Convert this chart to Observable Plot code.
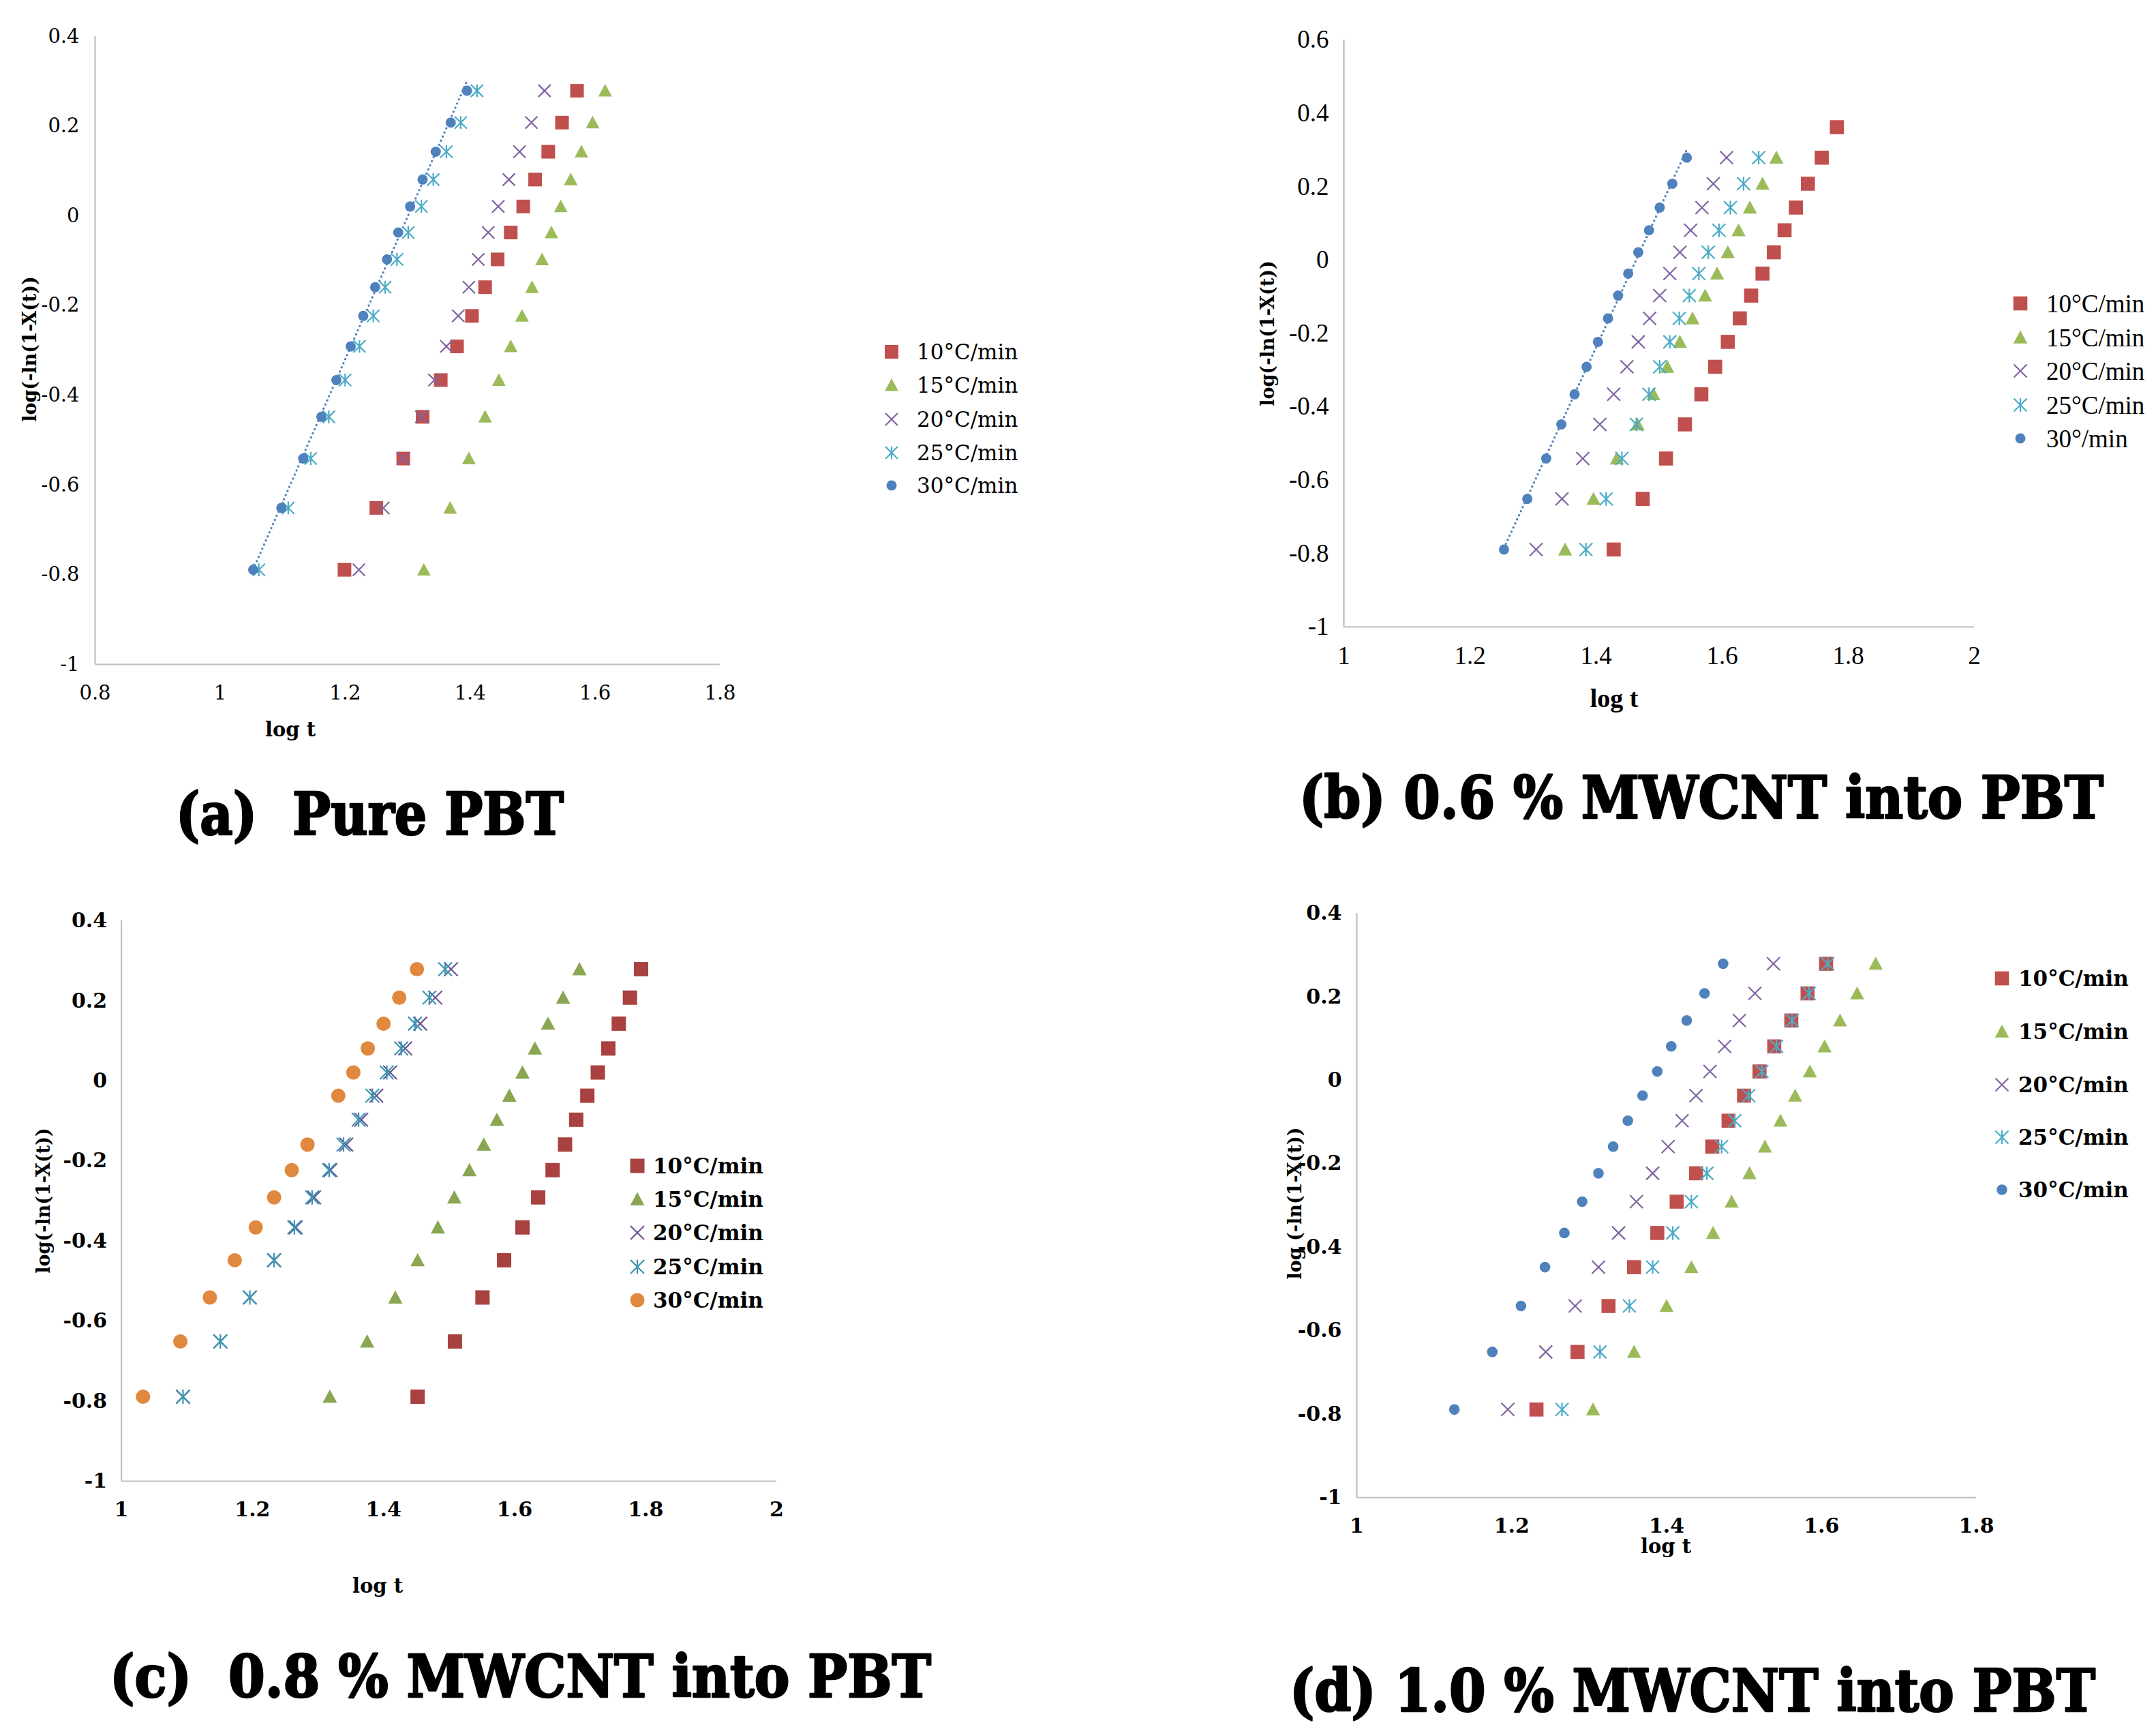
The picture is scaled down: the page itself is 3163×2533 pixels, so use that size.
<!DOCTYPE html>
<html><head><meta charset="utf-8">
<script src="https://cdn.jsdelivr.net/npm/d3@7"></script>
<script src="https://cdn.jsdelivr.net/npm/@observablehq/plot@0.6"></script>
<style>
body{margin:0;background:#fff}
#page{position:relative;width:3163px;height:2533px;background:#fff;overflow:hidden}
.abs{position:absolute;white-space:pre;line-height:1;color:#000}
</style></head><body><div id="page"></div>
<script>
// ---------- DATA ----------
// y levels: log(-ln(1-X(t))) (bottom -> top)
const yLevels = [-0.789, -0.651, -0.541, -0.448, -0.366, -0.291, -0.223, -0.159, -0.097, -0.037, 0.021, 0.081, 0.143, 0.208, 0.279];
const yLevelsB10 = [-0.789, -0.651, -0.541, -0.448, -0.366, -0.291, -0.223, -0.159, -0.097, -0.037, 0.021, 0.081, 0.143, 0.208, 0.279, 0.362];

// (a) Pure PBT : log t
const a10 = [1.199, 1.250, 1.293, 1.324, 1.353, 1.379, 1.403, 1.424, 1.444, 1.465, 1.485, 1.504, 1.525, 1.547, 1.571];
const a15 = [1.326, 1.368, 1.398, 1.424, 1.446, 1.465, 1.483, 1.499, 1.515, 1.530, 1.545, 1.561, 1.578, 1.596, 1.616];
const a20 = [1.222, 1.261, 1.294, 1.322, 1.343, 1.362, 1.381, 1.398, 1.413, 1.429, 1.445, 1.462, 1.479, 1.498, 1.519];
const a25 = [1.062, 1.109, 1.145, 1.174, 1.200, 1.223, 1.245, 1.264, 1.283, 1.301, 1.322, 1.341, 1.362, 1.385, 1.411];
const a30 = [1.053, 1.098, 1.133, 1.162, 1.186, 1.209, 1.229, 1.248, 1.267, 1.285, 1.304, 1.324, 1.345, 1.369, 1.395];

// (b) 0.6 % MWCNT
const b10 = [1.428, 1.474, 1.511, 1.541, 1.567, 1.589, 1.609, 1.628, 1.646, 1.664, 1.682, 1.699, 1.717, 1.736, 1.758, 1.782];
const b15 = [1.351, 1.396, 1.433, 1.466, 1.491, 1.513, 1.533, 1.553, 1.573, 1.592, 1.609, 1.626, 1.644, 1.664, 1.686];
const b20 = [1.305, 1.346, 1.379, 1.406, 1.428, 1.449, 1.467, 1.485, 1.501, 1.517, 1.533, 1.550, 1.568, 1.586, 1.607];
const b25 = [1.384, 1.416, 1.441, 1.464, 1.484, 1.501, 1.517, 1.532, 1.548, 1.563, 1.578, 1.595, 1.613, 1.634, 1.658];
const b30 = [1.254, 1.291, 1.321, 1.345, 1.366, 1.385, 1.403, 1.419, 1.435, 1.451, 1.467, 1.484, 1.501, 1.521, 1.544];

// (c) 0.8 % MWCNT  (30°C: no point at the 9th level)
const c10 = [1.452, 1.509, 1.551, 1.584, 1.612, 1.636, 1.658, 1.677, 1.694, 1.711, 1.727, 1.743, 1.759, 1.776, 1.793];
const c15 = [1.318, 1.375, 1.418, 1.452, 1.483, 1.508, 1.531, 1.553, 1.573, 1.592, 1.612, 1.631, 1.651, 1.674, 1.699];
const c20 = [1.094, 1.151, 1.196, 1.233, 1.266, 1.294, 1.319, 1.343, 1.366, 1.389, 1.410, 1.433, 1.456, 1.479, 1.503];
const c25 = [1.094, 1.151, 1.196, 1.233, 1.264, 1.291, 1.317, 1.339, 1.362, 1.383, 1.405, 1.427, 1.448, 1.470, 1.494];
const c30 = [1.033, 1.090, 1.135, 1.173, 1.205, 1.233, 1.260, 1.284, null, 1.331, 1.354, 1.376, 1.400, 1.424, 1.451];

// (d) 1.0 % MWCNT
const d10 = [1.232, 1.285, 1.325, 1.358, 1.388, 1.413, 1.438, 1.459, 1.480, 1.500, 1.520, 1.539, 1.561, 1.582, 1.606];
const d15 = [1.305, 1.358, 1.400, 1.432, 1.460, 1.484, 1.507, 1.527, 1.547, 1.566, 1.585, 1.604, 1.624, 1.646, 1.670];
const d20 = [1.195, 1.244, 1.282, 1.312, 1.338, 1.361, 1.382, 1.402, 1.420, 1.438, 1.456, 1.475, 1.494, 1.514, 1.538];
const d25 = [1.265, 1.314, 1.352, 1.382, 1.408, 1.432, 1.452, 1.471, 1.488, 1.506, 1.523, 1.542, 1.562, 1.584, 1.608];
const d30 = [1.126, 1.175, 1.212, 1.243, 1.268, 1.291, 1.312, 1.331, 1.350, 1.369, 1.388, 1.406, 1.426, 1.449, 1.473];

const seriesNames = ["10°C/min", "15°C/min", "20°C/min", "25°C/min", "30°C/min"];
const seriesNamesB = ["10°C/min", "15°C/min", "20°C/min", "25°C/min", "30°/min"];

const xTicksA = [0.8, 1, 1.2, 1.4, 1.6, 1.8];
const xTickLabelsA = ["0.8", "1", "1.2", "1.4", "1.6", "1.8"];
const xTicksBC = [1, 1.2, 1.4, 1.6, 1.8, 2];
const xTickLabelsBC = ["1", "1.2", "1.4", "1.6", "1.8", "2"];
const xTicksD = [1, 1.2, 1.4, 1.6, 1.8];
const xTickLabelsD = ["1", "1.2", "1.4", "1.6", "1.8"];
const yTicks04 = [-1, -0.8, -0.6, -0.4, -0.2, 0, 0.2, 0.4];
const yTickLabels04 = ["-1", "-0.8", "-0.6", "-0.4", "-0.2", "0", "0.2", "0.4"];
const yTicks06 = [-1, -0.8, -0.6, -0.4, -0.2, 0, 0.2, 0.4, 0.6];
const yTickLabels06 = ["-1", "-0.8", "-0.6", "-0.4", "-0.2", "0", "0.2", "0.4", "0.6"];

const titles = ["(a)  Pure PBT", "(b) 0.6 % MWCNT into PBT", "(c)  0.8 % MWCNT into PBT", "(d) 1.0 % MWCNT into PBT"];
const xTitle = "log t";
const yTitle = "log(-ln(1-X(t))";
const yTitleD = "log (-ln(1-X(t))";

// ---------- STYLE ----------
const stdColors = ["#C0504D", "#9BBB59", "#8064A2", "#4BACC6", "#4F81BD"];
const cColors = ["#A8413F", "#8AA652", "#6E5397", "#3B96B0", "#E0883D"];
const kinds = ["square", "triangle", "times", "star", "circle"];
const axisGray = "#BFBFBF";

const symSquare = {draw(c, s) { const r = Math.sqrt(s / Math.PI); c.rect(-r, -r, 2 * r, 2 * r); }};
const symTri = {draw(c, s) { const r = Math.sqrt(s / Math.PI); c.moveTo(0, -r); c.lineTo(r, r * 0.85); c.lineTo(-r, r * 0.85); c.closePath(); }};
const symCircle = {draw(c, s) { const r = Math.sqrt(s / Math.PI); c.moveTo(r, 0); c.arc(0, 0, r, 0, 2 * Math.PI); }};
const symX = {draw(c, s) { const r = Math.sqrt(s / Math.PI); c.moveTo(-r, -r); c.lineTo(r, r); c.moveTo(-r, r); c.lineTo(r, -r); }};
const symStar = {draw(c, s) { const r = Math.sqrt(s / Math.PI); c.moveTo(-r, -r); c.lineTo(r, r); c.moveTo(-r, r); c.lineTo(r, -r); c.moveTo(0, -r * 1.05); c.lineTo(0, r * 1.05); }};
const symOf = {square: symSquare, triangle: symTri, circle: symCircle, times: symX, star: symStar};
const strokeKinds = new Set(["times", "star"]);

const page = document.getElementById("page");

function addText(txt, x, y, o) {
  const d = document.createElement("div");
  d.className = "abs";
  d.textContent = txt;
  d.style.left = x + "px";
  d.style.top = y + "px";
  d.style.fontFamily = o.family;
  d.style.fontSize = o.size + "px";
  d.style.fontWeight = o.weight || "normal";
  const tr = o.anchor === "start" ? "translate(0,-50%)" : "translate(-50%,-50%)";
  d.style.transform = tr + (o.rotate ? ` rotate(${o.rotate}deg)` : "");
  page.appendChild(d);
}

function addMarker(kind, color, r, x, y) {
  const svg = d3.create("svg").attr("width", 40).attr("height", 40)
    .style("position", "absolute").style("left", (x - 20) + "px").style("top", (y - 20) + "px");
  const path = d3.symbol(symOf[kind], Math.PI * r * r)();
  const p = svg.append("path").attr("transform", "translate(20,20)").attr("d", path);
  if (strokeKinds.has(kind)) p.attr("fill", "none").attr("stroke", color).attr("stroke-width", 2.2);
  else p.attr("fill", color);
  page.appendChild(svg.node());
}

function buildPanel(p) {
  const marks = [
    Plot.ruleX([p.xDomain[0]], {stroke: axisGray, strokeWidth: 2.2}),
    Plot.ruleY([p.yDomain[0]], {stroke: axisGray, strokeWidth: 2.2})
  ];
  const rowsOf = s => s.xs.map((x, i) => ({x, y: s.ys[i]})).filter(d => d.x != null);
  for (const s of p.series) {
    if (s.trend) marks.push(Plot.linearRegressionY(rowsOf(s), {x: "x", y: "y", ci: 0, stroke: s.color, strokeWidth: 3.2, strokeDasharray: "0.1 6.5", strokeLinecap: "round"}));
  }
  for (const s of p.series) {
    const base = {x: "x", y: "y", symbol: symOf[s.kind], r: s.r};
    if (strokeKinds.has(s.kind)) marks.push(Plot.dot(rowsOf(s), {...base, fill: "none", stroke: s.color, strokeWidth: 2.2}));
    else marks.push(Plot.dot(rowsOf(s), {...base, fill: s.color, stroke: "none"}));
  }
  const svg = Plot.plot({
    width: p.width, height: p.height,
    marginLeft: p.mL, marginRight: p.mR, marginTop: p.mT, marginBottom: p.mB,
    x: {domain: p.xDomain, ticks: p.xTicks, tickFormat: d => p.xLabels[p.xTicks.indexOf(d)], tickSize: 0, tickPadding: p.padX, label: null},
    y: {domain: p.yDomain, ticks: p.yTicks, tickFormat: d => p.yLabels[p.yTicks.indexOf(d)], tickSize: 0, tickPadding: p.padY, label: null},
    style: {fontFamily: p.tickFamily, fontSize: p.tickSize + "px", fontWeight: p.tickWeight, color: "#000", background: "transparent", overflow: "visible"},
    marks
  });
  svg.style.position = "absolute";
  svg.style.left = p.left + "px";
  svg.style.top = p.top + "px";
  page.appendChild(svg);

  // legend
  p.legend.rows.forEach((yy, i) => {
    const s = p.series[i];
    addMarker(s.kind, s.color, s.r, p.legend.mx, yy);
    addText(p.legend.names[i], p.legend.tx, yy, {family: p.legend.family, size: p.legend.size, weight: p.legend.weight, anchor: "start"});
  });
  // axis titles
  addText(xTitle, p.xt[0], p.xt[1], {family: p.xtFamily, size: p.xtSize, weight: "bold"});
  addText(p.yTitleText, p.yt[0], p.yt[1], {family: "'DejaVu Serif', serif", size: 27, weight: "bold", rotate: -90});
}

function mk(xsArr, ysArr, colors, rs, trendIdx) {
  return xsArr.map((xs, i) => ({xs, ys: ysArr[i], color: colors[i], kind: kinds[i], r: rs[i], trend: i === trendIdx}));
}

const panels = [
  {left: 0, top: 0, width: 1100, height: 1100, mL: 139, mR: 44, mT: 53, mB: 126,
   xDomain: [0.8, 1.8], xTicks: xTicksA, xLabels: xTickLabelsA, yDomain: [-1, 0.4], yTicks: yTicks04, yLabels: yTickLabels04,
   padX: 31, padY: 23, tickFamily: "'DejaVu Serif', serif", tickSize: 29, tickWeight: "normal",
   series: mk([a10, a15, a20, a25, a30], [yLevels, yLevels, yLevels, yLevels, yLevels], stdColors, [10, 10, 9, 9, 7.5], 4),
   legend: {mx: 1308, tx: 1345, rows: [516, 565, 615, 664, 712], names: seriesNames, family: "'DejaVu Serif', serif", size: 31, weight: "normal"},
   xt: [426, 1070], xtFamily: "'DejaVu Serif', serif", xtSize: 29, yt: [43, 512], yTitleText: yTitle},
  {left: 1780, top: 0, width: 1383, height: 1100, mL: 191, mR: 267, mT: 58, mB: 181,
   xDomain: [1, 2], xTicks: xTicksBC, xLabels: xTickLabelsBC, yDomain: [-1, 0.6], yTicks: yTicks06, yLabels: yTickLabels06,
   padX: 28, padY: 22, tickFamily: "'Liberation Serif', serif", tickSize: 37, tickWeight: "normal",
   series: mk([b10, b15, b20, b25, b30], [yLevelsB10, yLevels, yLevels, yLevels, yLevels], stdColors, [10.3, 10.3, 9.5, 9.5, 7.5], 4),
   legend: {mx: 2964, tx: 3002, rows: [445, 495, 544, 594, 643], names: seriesNamesB, family: "'Liberation Serif', serif", size: 37, weight: "normal"},
   xt: [2368, 1024], xtFamily: "'Liberation Serif', serif", xtSize: 38, yt: [1859, 489], yTitleText: yTitle},
  {left: 0, top: 1280, width: 1250, height: 1000, mL: 177.6, mR: 111, mT: 70, mB: 108,
   xDomain: [1, 2], xTicks: xTicksBC, xLabels: xTickLabelsBC, yDomain: [-1, 0.4], yTicks: yTicks04, yLabels: yTickLabels04,
   padX: 30, padY: 21, tickFamily: "'DejaVu Serif', serif", tickSize: 30, tickWeight: "bold",
   series: mk([c10, c15, c20, c25, c30], [yLevels, yLevels, yLevels, yLevels, yLevels], cColors, [10.5, 10.5, 10, 10, 10.5], -1),
   legend: {mx: 935, tx: 958, rows: [1710, 1759, 1808, 1858, 1907], names: seriesNames, family: "'DejaVu Serif', serif", size: 31, weight: "bold"},
   xt: [554, 2326], xtFamily: "'DejaVu Serif', serif", xtSize: 29, yt: [63, 1761], yTitleText: yTitle},
  {left: 1840, top: 1280, width: 1323, height: 1000, mL: 150, mR: 264, mT: 59, mB: 84,
   xDomain: [1, 1.8], xTicks: xTicksD, xLabels: xTickLabelsD, yDomain: [-1, 0.4], yTicks: yTicks04, yLabels: yTickLabels04,
   padX: 30, padY: 22, tickFamily: "'DejaVu Serif', serif", tickSize: 30, tickWeight: "bold",
   series: mk([d10, d15, d20, d25, d30], [yLevels, yLevels, yLevels, yLevels, yLevels], stdColors, [10.3, 10.3, 9.5, 9.5, 7.8], -1),
   legend: {mx: 2937, tx: 2961, rows: [1435, 1513, 1591, 1668, 1745], names: seriesNames, family: "'DejaVu Serif', serif", size: 31, weight: "bold"},
   xt: [2444, 2268], xtFamily: "'DejaVu Serif', serif", xtSize: 29, yt: [1899, 1765], yTitleText: yTitleD}
];

panels.forEach(buildPanel);

// panel titles (fit to measured widths)
const titleBoxes = [[258, 1224, 569], [1906, 1200, 1180], [161, 2489, 1205], [1892, 2510, 1182]];
const tsvg = d3.create("svg").attr("width", 3163).attr("height", 2533)
  .style("position", "absolute").style("left", "0px").style("top", "0px");
titles.forEach((t, i) => {
  const [x, y, w] = titleBoxes[i];
  tsvg.append("text").attr("x", x).attr("y", y).attr("textLength", w).attr("lengthAdjust", "spacingAndGlyphs")
    .style("white-space", "pre").attr("font-family", "'DejaVu Serif Condensed', 'DejaVu Serif', serif")
    .attr("font-weight", "bold").attr("font-size", 86).attr("fill", "#000")
    .attr("stroke", "#000").attr("stroke-width", 2.5).attr("stroke-linejoin", "round").text(t);
});
page.appendChild(tsvg.node());
</script></body></html>
